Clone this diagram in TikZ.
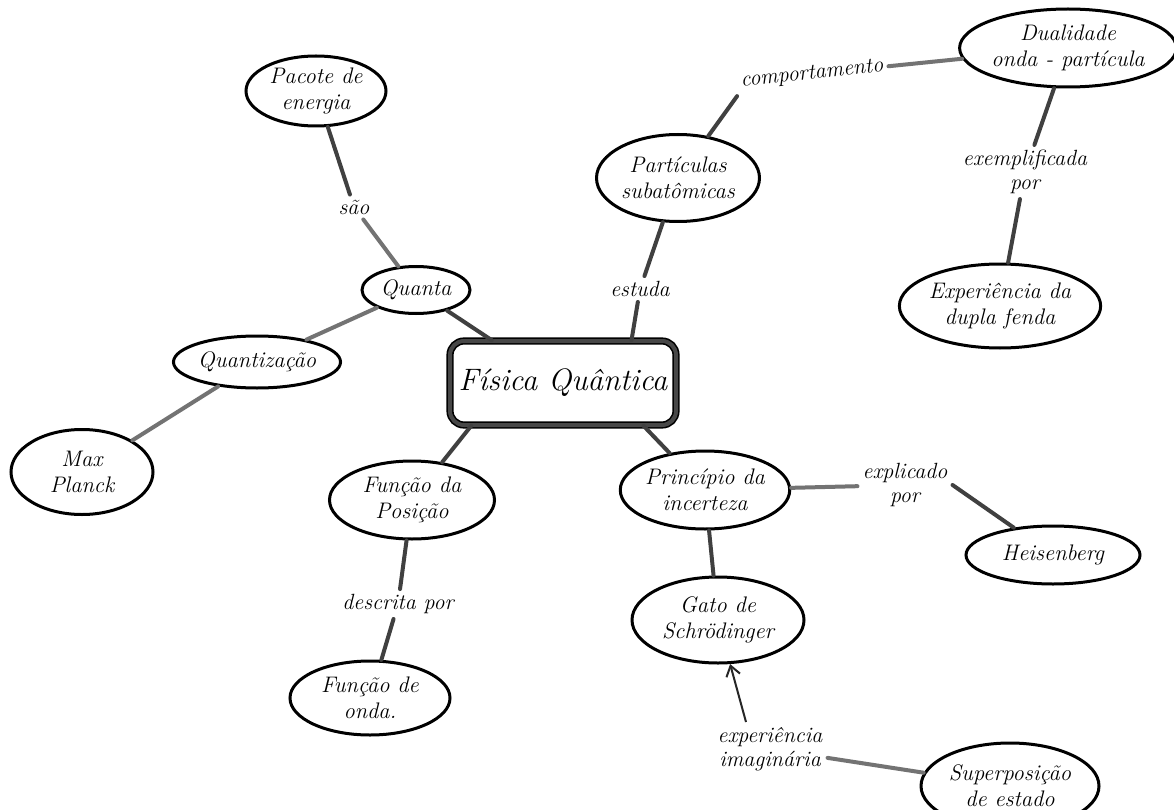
\documentclass[tikz,border=0pt]{standalone}
\usepackage{fontspec}
\usetikzlibrary{shapes.geometric,arrows.meta}
\begin{document}
\begin{tikzpicture}[x=1pt,y=-1pt,
  concept/.style={ellipse,draw=black,line width=3pt,inner sep=0pt,align=center,
    font=\fontsize{22.5}{26}\selectfont\itshape},
  linkword/.style={inner sep=5pt,align=center,font=\fontsize{22}{24}\selectfont\itshape},
  central/.style={rectangle,rounded corners=14pt,draw=black,line width=1.6pt,
    double=black!72,double distance=4pt,
    minimum width=226pt,minimum height=84pt,font=\fontsize{31}{34}\selectfont\itshape},
  link/.style={draw=black!75,line width=4pt,line cap=round},
  pencil/.style={link,draw=black!55},
  arrowlink/.style={draw=black!85,line width=2pt,-{Straight Barb[length=10pt,width=14pt,line width=2pt]}}
]
\useasboundingbox (0,0) rectangle (1174,810);
\clip (0,0) rectangle (1174,810);
\fill[white] (0,0) rectangle (1174,810);

% central concept
\node[central] (fq) at (563,383) {Física Quântica};

% left branch
\node[concept,minimum width=140pt,minimum height=70pt] (pacote) at (316,91) {Pacote de\\energia};
\node[linkword] (sao) at (354,207) {são};
\node[concept,minimum width=108pt,minimum height=47pt] (quanta) at (416,290) {Quanta};
\node[concept,minimum width=152pt,minimum height=52pt] (quantiz) at (257,362) {Quantização};
\node[concept,minimum width=142pt,minimum height=85pt] (planck) at (82,472) {Max\\Planck};

% upper right branch
\node[concept,minimum width=163pt,minimum height=87pt] (part) at (678,178) {Partículas\\subatômicas};
\node[linkword] (estuda) at (640,289) {estuda};
\node[linkword,rotate=6] (comport) at (812,74) {comportamento};
\node[concept,minimum width=198pt,minimum height=78pt] (dual) at (1068,48) {Dualidade\\onda - partícula};
\node[linkword] (exempl) at (1025,172) {exemplificada\\por};
\node[concept,minimum width=176pt,minimum height=84pt] (exper) at (1000,306) {Experiência da\\dupla fenda};

% lower left branch
\node[concept,minimum width=165pt,minimum height=78pt] (funpos) at (412,500) {Função da\\Posição};
\node[linkword] (descr) at (398,604) {descrita por};
\node[concept,minimum width=160pt,minimum height=74pt] (funonda) at (370,698) {Função de\\onda.};

% lower right branch
\node[concept,minimum width=162pt,minimum height=78pt] (princ) at (705,490) {Princípio da\\incerteza};
\node[linkword] (explic) at (905,485) {explicado\\por};
\node[concept,minimum width=174pt,minimum height=58pt] (heis) at (1053,555) {Heisenberg};
\node[concept,minimum width=172pt,minimum height=86pt] (gato) at (718,620) {Gato de\\Schrödinger};
\node[linkword] (expim) at (770,749) {experiência\\imaginária};
\node[concept,minimum width=178pt,minimum height=86pt] (superp) at (1010,786) {Superposição\\de estado};

% connectors
\draw[link] (pacote) -- (sao);
\draw[pencil] (sao) -- (quanta);
\draw[link] (quanta) -- (fq.149);
\draw[pencil] (quanta) -- (quantiz);
\draw[pencil] (quantiz) -- (planck);
\draw[link] (fq.32) -- (estuda);
\draw[link] (estuda) -- (part);
\draw[link] (part) -- (comport.south west);
\draw[pencil] (comport) -- (dual);
\draw[link] (dual) -- (exempl);
\draw[link] (exempl) -- (exper);
\draw[link] (fq.205) -- (funpos);
\draw[link] (funpos) -- (descr);
\draw[link] (descr) -- (funonda);
\draw[link] (fq.332) -- (princ);
\draw[pencil] (princ) -- (explic);
\draw[link] (explic.east) -- (heis);
\draw[link] (princ) -- (gato);
\draw[pencil] (superp) -- (expim);
\draw[arrowlink] ([xshift=-24pt]expim.north) -- (gato);
\end{tikzpicture}
\end{document}
